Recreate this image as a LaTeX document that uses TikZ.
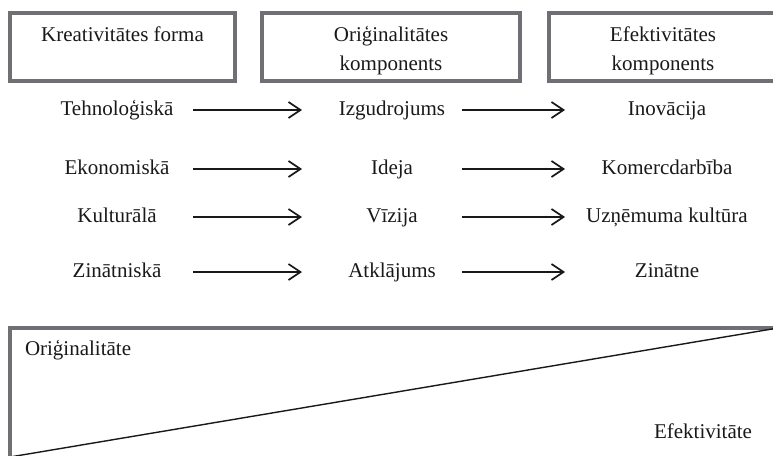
\documentclass[tikz,border=0pt]{standalone}
\usepackage{fontspec}
\setmainfont{Liberation Serif}
\usetikzlibrary{arrows.meta}
\definecolor{boxgray}{RGB}{112,112,116}
\definecolor{ink}{RGB}{25,25,25}
\begin{document}
\begin{tikzpicture}[x=1pt,y=-1pt,
  every node/.style={font=\fontsize{21}{29}\selectfont, text=ink, inner sep=0pt, outer sep=0pt},
  headbox/.style={draw=boxgray, line width=4pt, inner sep=0pt, minimum height=68pt},
  headtext/.style={align=center, anchor=north},
  cellA/.style={text height=15pt, text depth=5pt, minimum width=152pt},
  cellB/.style={text height=15pt, text depth=5pt, minimum width=180pt},
  cellC/.style={text height=15pt, text depth=5pt, minimum width=204pt},
  arr/.style={draw=ink, line width=1.3pt, -{Straight Barb[length=12pt,width=16pt,line width=1.7pt]}},
  frame/.style={draw=boxgray, line width=4pt},
  diag/.style={draw=ink, line width=1.4pt}
]
\useasboundingbox (0,0) rectangle (773,455);

% header boxes
\node[headbox, minimum width=225pt] (h1) at (122.5,46.5) {};
\node[headbox, minimum width=258pt] (h2) at (391,46.5) {};
\node[headbox, minimum width=228pt] (h3) at (663,46.5) {};
\node[headtext] (h1t) at (122.5,27) {Kreativitātes forma};
\node[headtext] (h2t) at (391,26) {Oriģinalitātes\\komponents};
\node[headtext] (h3t) at (663,27) {Efektivitātes\\komponents};

% rows
\node[cellA] (a1) at (117,110) {Tehnoloģiskā};
\node[cellB] (b1) at (392,110) {Izgudrojums};
\node[cellC] (c1) at (667,110) {Inovācija};
\node[cellA] (a2) at (117,169) {Ekonomiskā};
\node[cellB] (b2) at (392,169) {Ideja};
\node[cellC] (c2) at (667,169) {Komercdarbība};
\node[cellA] (a3) at (117,217) {Kulturālā};
\node[cellB] (b3) at (392,217) {Vīzija};
\node[cellC] (c3) at (667,217) {Uzņēmuma kultūra};
\node[cellA] (a4) at (117,272) {Zinātniskā};
\node[cellB] (b4) at (392,272) {Atklājums};
\node[cellC] (c4) at (667,272) {Zinātne};

\foreach \r in {1,2,3,4}{
  \draw[arr] (a\r.east) -- (b\r.west);
  \draw[arr, shorten <=-20pt] (b\r.east) -- (c\r.west);
}

% bottom frame with diagonal
\coordinate (tr) at (778,328);
\coordinate (tl) at (10,328);
\coordinate (bl) at (10,462);
\coordinate (dl) at (10,457);
\draw[frame] (tr) -- (tl) -- (bl);
\draw[diag] (dl) -- (tr);
\node[anchor=base west] (orig) at (25,355) {Oriģinalitāte};
\node[anchor=base east] (efek) at (752,438) {Efektivitāte};
\end{tikzpicture}
\end{document}
